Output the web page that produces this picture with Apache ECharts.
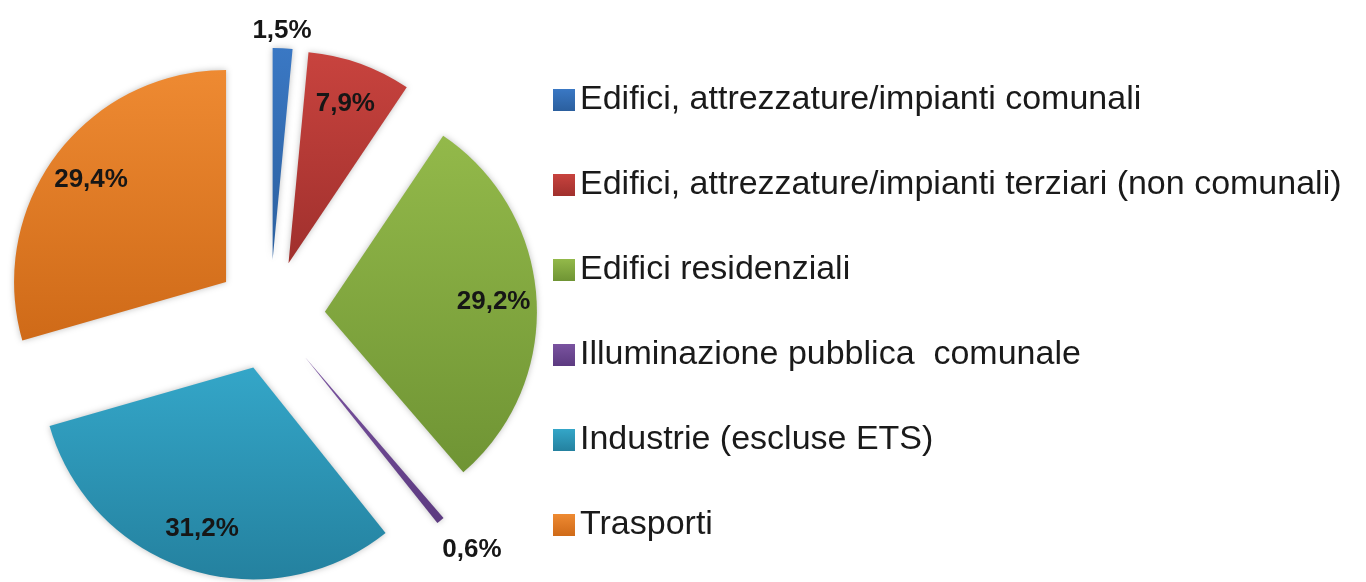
<!DOCTYPE html>
<html>
<head>
<meta charset="utf-8">
<script src="https://cdn.jsdelivr.net/npm/echarts@6/dist/echarts.min.js"></script>
<style>
  html, body { margin: 0; padding: 0; background: #fff; }
  #chart { width: 1366px; height: 582px; }
</style>
</head>
<body>
<div id="chart"></div>
<script>
// ripartizione percentuale per settore
const categories = [
  'Edifici, attrezzature/impianti comunali',
  'Edifici, attrezzature/impianti terziari (non comunali)',
  'Edifici residenziali',
  'Illuminazione pubblica  comunale',
  'Industrie (escluse ETS)',
  'Trasporti'
]
const shares = [1.5, 7.9, 29.2, 0.6, 31.2, 29.4]
// colori (alto, basso) del gradiente di ogni fetta
const topColors = ['#3a78c4', '#c8433e', '#93b94a', '#7a53a0', '#34a6c8', '#ee8a32']
const bottomColors = ['#2b5f9e', '#a0302d', '#6f9434', '#5c3a80', '#24819f', '#cf6a18']
// fette con etichetta esterna
const outsideLabels = [0, 3]

const chart = echarts.init(document.getElementById('chart'))

function fmt(v) {
  return v.toFixed(1).replace('.', ',') + '%'
}

const center = [270, 315]
const radius = 212
const offset = 55

const mainData = categories.map((name, i) => {
  const outside = outsideLabels.indexOf(i) >= 0
  return {
    name: name,
    value: shares[i],
    selected: true,
    itemStyle: {
      color: new echarts.graphic.LinearGradient(0, 0, 0, 1, [
        { offset: 0, color: topColors[i] },
        { offset: 1, color: bottomColors[i] }
      ])
    },
    label: { show: outside },
    labelLine: { show: false }
  }
})

const labelData = categories.map((name, i) => ({
  name: name,
  value: shares[i],
  selected: true,
  label: { show: outsideLabels.indexOf(i) < 0 }
}))

const labelStyle = {
  formatter: p => fmt(p.value),
  color: '#161616',
  fontFamily: 'Liberation Sans',
  fontWeight: 'bold',
  fontSize: 26
}

chart.setOption({
  animation: false,
  legend: {
    orient: 'vertical',
    left: 548,
    top: 77,
    itemGap: 49,
    icon: 'rect',
    itemWidth: 22,
    itemHeight: 22,
    selectedMode: false,
    data: categories,
    textStyle: {
      fontFamily: 'Liberation Sans',
      fontSize: 34,
      lineHeight: 36,
      color: '#1a1a1a'
    }
  },
  series: [
    {
      name: 'settori',
      type: 'pie',
      center: center,
      radius: radius,
      startAngle: 90,
      clockwise: true,
      selectedMode: 'multiple',
      selectedOffset: offset,
      avoidLabelOverlap: false,
      itemStyle: {
        shadowBlur: 6,
        shadowColor: 'rgba(0,0,0,0.25)'
      },
      select: { itemStyle: { borderWidth: 0 } },
      emphasis: { disabled: true },
      label: Object.assign({ position: 'outside' }, labelStyle),
      labelLine: { show: false, length: 17, length2: 0 },
      labelLayout: function (p) {
        if (p.dataIndex === 0) return { dx: -36, dy: 0 }
        if (p.dataIndex === 3) return { dx: -14, dy: 16 }
        return {}
      },
      data: mainData
    },
    {
      // serie trasparente usata solo per le etichette interne
      name: 'etichette',
      type: 'pie',
      center: center,
      radius: [0, 332],
      startAngle: 90,
      clockwise: true,
      selectedMode: 'multiple',
      selectedOffset: offset,
      silent: true,
      avoidLabelOverlap: false,
      itemStyle: { color: 'transparent' },
      select: { itemStyle: { color: 'transparent', borderWidth: 0 } },
      label: Object.assign({ position: 'inside' }, labelStyle),
      labelLine: { show: false },
      data: labelData
    }
  ]
})
</script>
</body>
</html>
